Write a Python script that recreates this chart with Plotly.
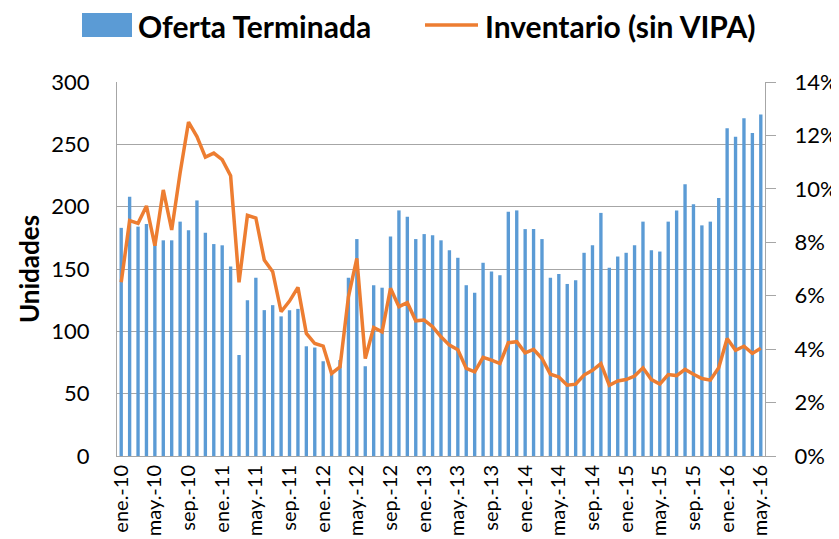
import plotly.graph_objects as go

meses = ["ene", "feb", "mar", "abr", "may", "jun", "jul", "ago", "sep", "oct", "nov", "dic"]
categorias = []
for anio in range(10, 17):
    for m in meses:
        categorias.append(f"{m}.-{anio}")
categorias = categorias[:77]  # ene.-10 ... may.-16

oferta_terminada = [
    183, 208, 184, 186, 170, 173, 173, 188, 181, 205, 179, 170,
    169, 152, 81, 125, 143, 117, 121, 112, 117, 118, 88, 87,
    76, 68, 77, 143, 174, 72, 137, 135, 176, 197, 192, 174,
    178, 177, 173, 165, 159, 137, 131, 155, 148, 145, 196, 197,
    182, 182, 174, 143, 146, 138, 141, 163, 169, 195, 151, 160,
    163, 169, 188, 165, 164, 188, 197, 218, 202, 185, 188, 207,
    263, 256, 271, 259, 274,
]

inventario = [
    6.5, 8.81, 8.71, 9.36, 7.87, 9.96, 8.46, 10.6, 12.5, 11.96, 11.19, 11.34,
    11.09, 10.49, 6.5, 9.01, 8.91, 7.34, 6.9, 5.4, 5.8, 6.31, 4.59, 4.21,
    4.11, 3.09, 3.34, 5.96, 7.4, 3.65, 4.81, 4.65, 6.28, 5.59, 5.74, 5.06,
    5.09, 4.84, 4.46, 4.15, 3.98, 3.28, 3.15, 3.69, 3.59, 3.46, 4.24, 4.28,
    3.86, 3.99, 3.65, 3.06, 2.96, 2.65, 2.69, 3.03, 3.21, 3.46, 2.65, 2.81,
    2.86, 2.99, 3.3, 2.86, 2.69, 3.05, 3.01, 3.24, 3.06, 2.9, 2.84, 3.3,
    4.4, 3.96, 4.11, 3.84, 4.03,
]
inventario = [v / 100 for v in inventario]

tick_vals = categorias[::4]
tick_text = categorias[::4]

y_ticks = [0, 50, 100, 150, 200, 250, 300]
y2_ticks = [0, 0.02, 0.04, 0.06, 0.08, 0.10, 0.12, 0.14]

BLUE = "#5B9BD5"
ORANGE = "#ED7D31"
GRID = "#A6A6A6"
FONT = "Lato"

fig = go.Figure()
fig.add_trace(go.Bar(x=categorias, y=oferta_terminada, name="Oferta Terminada",
                     marker=dict(color=BLUE, line=dict(width=0)), yaxis="y",
                     showlegend=False))
fig.add_trace(go.Scatter(x=categorias, y=inventario, name="Inventario (sin VIPA)",
                         mode="lines", line=dict(color=ORANGE, width=3.5),
                         yaxis="y2", showlegend=False))

# page has an 8px body margin; figure coordinates are page coordinates minus 8
OFF = 8
W, H = 839 - OFF, 539 - OFF
L, R, T, B = 117 - OFF, 765 - OFF, 82 - OFF, 456 - OFF
pw, ph = R - L, B - T

def px(x):
    return (x - OFF - L) / pw

def py(y):
    return (B - (y - OFF)) / ph

shapes = [
    dict(type="rect", xref="paper", yref="paper", x0=px(82), x1=px(132), y0=py(37), y1=py(13),
         fillcolor=BLUE, line=dict(width=0)),
    dict(type="line", xref="paper", yref="paper", x0=px(425), x1=px(478), y0=py(25), y1=py(25),
         line=dict(color=ORANGE, width=3.5)),
]
annotations = [
    dict(text="<b>Oferta Terminada</b>", xref="paper", yref="paper", x=px(136), y=py(26),
         xanchor="left", yanchor="middle", showarrow=False,
         font=dict(family=FONT, size=30, color="black")),
    dict(text="<b>Inventario (sin VIPA)</b>", xref="paper", yref="paper", x=px(483), y=py(26),
         xanchor="left", yanchor="middle", showarrow=False,
         font=dict(family=FONT, size=30, color="black")),
]

fig.update_layout(
    width=W, height=H,
    margin=dict(l=L, r=W - R, t=T, b=H - B, autoexpand=False),
    paper_bgcolor="white", plot_bgcolor="white",
    bargap=0.6,
    font=dict(family=FONT, color="black"),
    showlegend=False,
    shapes=shapes,
    annotations=annotations,
    xaxis=dict(
        type="category", range=[-0.5, len(categorias) - 0.5],
        tickmode="array", tickvals=tick_vals, ticktext=tick_text,
        tickangle=-90, tickfont=dict(family=FONT, size=20, color="black"),
        showline=True, linecolor=GRID, linewidth=1, showgrid=False,
        ticks="", automargin=False,
    ),
    yaxis=dict(
        range=[0, 300], tickmode="array", tickvals=y_ticks,
        tickfont=dict(family=FONT, size=22, color="black"),
        showgrid=True, gridcolor=GRID, gridwidth=1,
        showline=True, linecolor=GRID, linewidth=1,
        ticks="", ticklabelstandoff=22, zeroline=False, automargin=False,
        title=dict(text="<b>Unidades</b>", font=dict(family=FONT, size=26, color="black"),
                   standoff=4),
    ),
    yaxis2=dict(
        range=[0, 0.14], overlaying="y", side="right", tickmode="array",
        tickvals=y2_ticks, tickformat=".0%",
        tickfont=dict(family=FONT, size=22, color="black"),
        showgrid=False, showline=True, linecolor=GRID, linewidth=1,
        ticks="outside", ticklen=10, tickcolor=GRID, tickwidth=1,
        ticklabelstandoff=14, zeroline=False, automargin=False,
    ),
)

fig.write_html("out.html")
